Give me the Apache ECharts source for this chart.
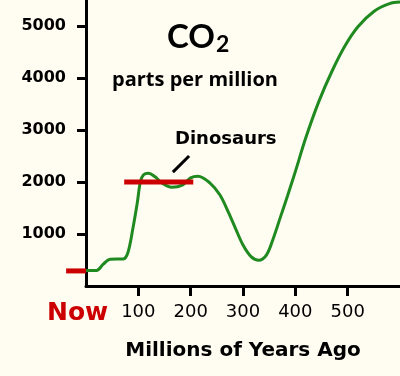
<!DOCTYPE html>
<html lang="en">
<head>
    <meta charset="UTF-8">
    <title>CO2 parts per million</title>
    <script src="https://cdn.jsdelivr.net/npm/echarts@6/dist/echarts.min.js"></script>
</head>
<body style="margin:0">
    <div id="container" style="width: 400px; height: 376px"></div>
    <script>
        // millions of years ago
        var mya = [0, 20, 33, 46, 71, 80, 90, 98, 104, 110, 119, 132, 145, 164, 184, 200, 214, 237, 256, 272, 286, 300, 316, 330, 345, 358, 371, 385, 400, 420, 445, 470, 495, 520, 550, 580, 600];
        // CO2, parts per million
        var ppm = [300, 300, 420, 515, 520, 640, 1130, 1600, 2010, 2140, 2170, 2100, 1980, 1900, 1940, 2080, 2110, 1980, 1750, 1420, 1100, 790, 560, 495, 600, 920, 1310, 1730, 2200, 2850, 3550, 4130, 4620, 4990, 5280, 5430, 5460];
        var dinoSpan = [73, 205];
        var dinoLevel = 2000;
        var nowPpm = 290;
        var xTicks = [100, 200, 300, 400, 500];
        var yTicks = [1000, 2000, 3000, 4000, 5000];

        var curve = mya.map(function (x, i) { return [x, ppm[i]]; });
        var plain = function (v) { return String(v); };

        var myCharts = echarts.init(document.querySelector('#container'));
        myCharts.setOption({
            backgroundColor: '#fffcf2',
            animation: false,
            grid: { left: 86, right: 0, top: 0, bottom: 90 },
            xAxis: {
                type: 'value', min: 0, max: 600, interval: 100,
                splitLine: { show: false },
                axisLine: { lineStyle: { color: '#000', width: 3 } },
                axisTick: { customValues: xTicks, length: 10, lineStyle: { color: '#000', width: 3 } },
                axisLabel: { customValues: xTicks, formatter: plain, color: '#000', fontFamily: 'DejaVu Sans', fontSize: 18, margin: 17 },
                name: 'Millions of Years Ago',
                nameLocation: 'middle',
                nameGap: 55,
                nameTextStyle: { color: '#000', fontFamily: 'DejaVu Sans', fontWeight: 'bold', fontSize: 20 }
            },
            yAxis: {
                type: 'value', min: 0, max: 5500, interval: 1000,
                splitLine: { show: false },
                axisLine: { show: true, lineStyle: { color: '#000', width: 3 } },
                axisTick: { show: true, customValues: yTicks, length: 9, lineStyle: { color: '#000', width: 3 } },
                axisLabel: { customValues: yTicks, formatter: plain, color: '#000', fontFamily: 'DejaVu Sans', fontWeight: 'bold', fontSize: 16, margin: 20 }
            },
            series: [{
                // CO2 curve
                type: 'line',
                data: curve,
                smooth: 0.35,
                symbol: 'none',
                lineStyle: { color: '#1f8a1f', width: 3 },
                z: 2
            }, {
                // dinosaur era
                type: 'line',
                data: [[dinoSpan[0], dinoLevel], [dinoSpan[1], dinoLevel]],
                symbol: 'none',
                lineStyle: { color: '#cc0000', width: 5, cap: 'butt' },
                z: 3
            }, {
                // pointer to the dinosaur bar
                type: 'line',
                data: [[166, 2190], [197, 2500]],
                symbol: 'none',
                lineStyle: { color: '#000', width: 3, cap: 'butt' },
                z: 3
            }]
        });

        // today's level sits left of the y axis, outside the grid
        var p0 = myCharts.convertToPixel({ gridIndex: 0 }, [-38, nowPpm]);
        var p1 = myCharts.convertToPixel({ gridIndex: 0 }, [0, nowPpm]);

        myCharts.setOption({
            graphic: [{
                type: 'line', z: 10,
                shape: { x1: p0[0], y1: p0[1], x2: p1[0], y2: p1[1] },
                style: { stroke: '#cc0000', lineWidth: 5 }
            }, {
                type: 'text', left: 167, top: 21,
                style: { text: 'CO', fontFamily: 'Lato', fontWeight: 'bold', fontSize: 33, fill: '#000' }
            }, {
                type: 'text', left: 216, top: 33,
                style: { text: '2', fontFamily: 'Lato', fontWeight: 'bold', fontSize: 23, fill: '#000' }
            }, {
                type: 'text', left: 112, top: 70,
                style: { text: 'parts per million', fontFamily: 'Open Sans', fontWeight: 'bold', fontSize: 20, fill: '#000' }
            }, {
                type: 'text', left: 175, top: 130,
                style: { text: 'Dinosaurs', fontFamily: 'DejaVu Sans', fontWeight: 'bold', fontSize: 18, fill: '#000' }
            }, {
                type: 'text', left: 47, top: 301,
                style: { text: 'Now', fontFamily: 'DejaVu Sans', fontWeight: 'bold', fontSize: 25, fill: '#cc0000' }
            }]
        });
    </script>
</body>
</html>
